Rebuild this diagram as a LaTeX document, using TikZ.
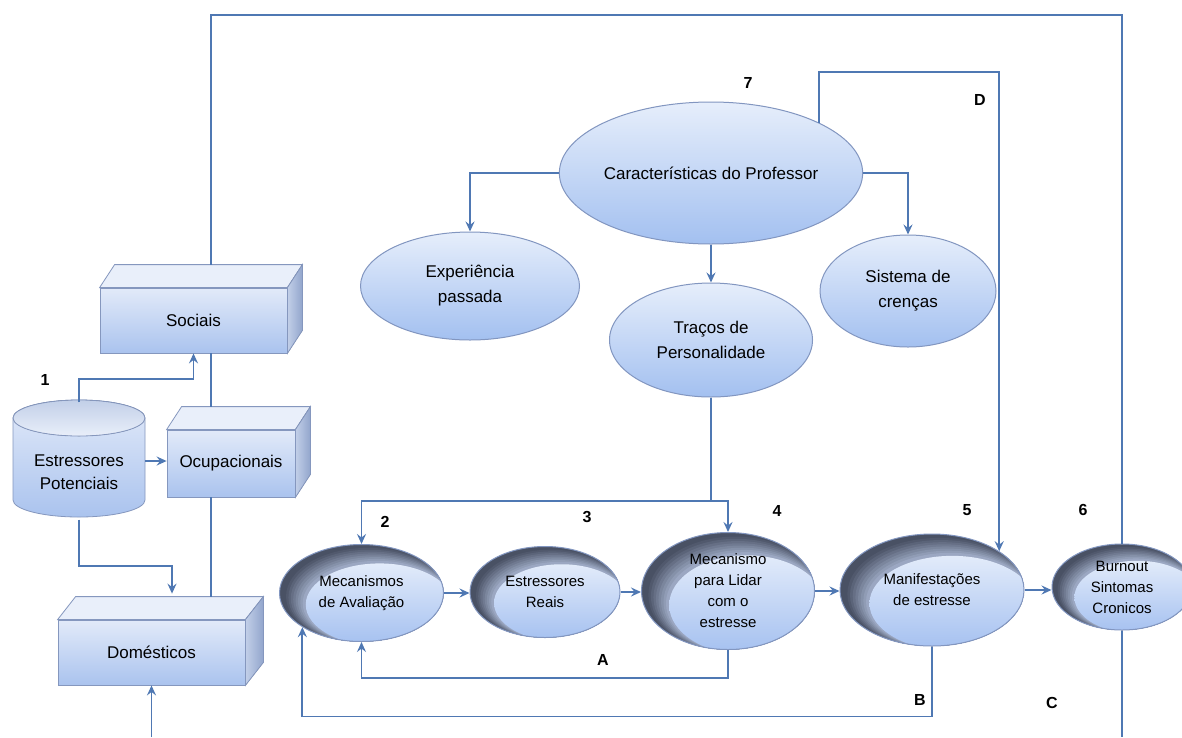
\documentclass[tikz,border=0pt]{standalone}
\usepackage{fontspec}
\setmainfont{Liberation Sans}
\usetikzlibrary{shapes.geometric,arrows.meta,calc}
\definecolor{linec}{HTML}{4F78B3}
\definecolor{ellb}{HTML}{8296C0}
\definecolor{ellT}{HTML}{E6EEFB}
\definecolor{ellB}{HTML}{A3C0F0}
\definecolor{boxb}{HTML}{8597BE}
\definecolor{boxT}{HTML}{E2EAF9}
\definecolor{boxB}{HTML}{AAC3EE}
\definecolor{topF}{HTML}{E9EFFA}
\definecolor{sideT}{HTML}{C2CFE8}
\definecolor{sideB}{HTML}{92A5CC}
\definecolor{cL}{HTML}{E2EBFA}
\definecolor{cB}{HTML}{A4C0F0}
\definecolor{cG}{HTML}{A9B6D2}
\definecolor{cDD}{HTML}{495164}
\newcommand\mycube[3]{%
  \filldraw[fill=topF, draw=boxb, line width=0.8pt] (#1.north west) -- ++(#2,-#3) -- ($(#1.north east)+(#2,-#3)$) -- (#1.north east) -- cycle;
  \filldraw[left color=sideT, right color=sideB, draw=boxb, line width=0.8pt] (#1.north east) -- ++(#2,-#3) -- ($(#1.south east)+(#2,-#3)$) -- (#1.south east) -- cycle;}
\begin{document}
\begin{tikzpicture}[x=1pt,y=-1pt,
  ln/.style={draw=linec, line width=1.8pt},
  arr/.style={ln, -{Stealth[length=10pt,width=9pt,inset=3.5pt]}},
  lightell/.style={ellipse, draw=ellb, line width=1pt, top color=ellT, bottom color=ellB, inner sep=0pt, align=center, font=\fontsize{17}{25}\selectfont},
  darkell/.style={ellipse, draw=ellb, line width=1pt, fill=cDD, inner sep=0pt, align=center, font=\fontsize{15}{21}\selectfont,
    path picture={
      \foreach \k [evaluate=\k as \pc using int(8+\k*11)] in {0,...,7}{
        \fill[cG!\pc!cDD] let \p1=(path picture bounding box.south west), \p2=(path picture bounding box.north east) in
          ({0.5*\x1+0.5*\x2+(0.04+0.0085*\k)*(\x2-\x1)},{0.5*\y1+0.5*\y2-(0.035+0.01*\k)*(\y2-\y1)}) ellipse [x radius={(0.5-0.006*\k)*(\x2-\x1)}, y radius={(0.5-0.009*\k)*(\y2-\y1)}];
      }
      \shade[top color=cL, bottom color=cB] let \p1=(path picture bounding box.south west), \p2=(path picture bounding box.north east) in
        ({0.5*\x1+0.5*\x2+0.11*(\x2-\x1)},{0.5*\y1+0.5*\y2-0.12*(\y2-\y1)}) ellipse [x radius={0.45*(\x2-\x1)}, y radius={0.425*(\y2-\y1)}];
    }},
  boxfront/.style={rectangle, draw=boxb, line width=0.8pt, top color=boxT, bottom color=boxB, inner sep=0pt, font=\fontsize{17}{20}\selectfont},
  lab/.style={font=\bfseries\fontsize{16}{16}\selectfont}]
\fill[white] (0,0) rectangle (1182,737);
\path[use as bounding box] (0,0) rectangle (1182,737);

% cylinder
\shade[top color=boxT, bottom color=boxB, draw=boxb, line width=0.8pt] (13,418) -- (13,500) arc[start angle=180, end angle=360, x radius=66pt, y radius=17pt] -- (145,418) arc[start angle=0, end angle=180, x radius=66pt, y radius=18pt] -- cycle;
\filldraw[top color=sideT, bottom color=topF, draw=boxb, line width=0.8pt] (79,418) ellipse [x radius=66pt, y radius=18pt];
\node[minimum width=132pt, minimum height=117pt, inner sep=0pt] (pot) at (79,461) {};
\node[align=center, font=\fontsize{17}{23}\selectfont] (potT) at (79,472) {Estressores\\Potenciais};

% boxes
\node[boxfront, minimum width=187pt, minimum height=65pt] (soc) at (193.5,320.5) {Sociais};
\mycube{soc}{15}{23}
\node[boxfront, minimum width=128pt, minimum height=67pt] (ocu) at (231,463.5) {Ocupacionais};
\mycube{ocu}{15}{23}
\node[boxfront, minimum width=187pt, minimum height=65pt] (dom) at (151.5,652.5) {Domésticos};
\mycube{dom}{18}{23}

% top ellipses
\node[lightell, minimum width=298pt, minimum height=142pt] (car) at (711,173) {Características do Professor};
\node[lightell, minimum width=219pt, minimum height=108pt] (exp) at (470,286) {Experiência\\passada};
\node[lightell, minimum width=203pt, minimum height=114pt] (tra) at (711,340) {Traços de\\Personalidade};
\node[lightell, minimum width=176pt, minimum height=112pt] (sis) at (908,291) {Sistema de\\crenças};

% bottom ellipses
\node[darkell, minimum width=164pt, minimum height=97pt] (mec) at (361.5,593) {Mecanismos\\de Avaliação};
\node[darkell, minimum width=150pt, minimum height=91pt] (rea) at (545,592) {Estressores\\Reais};
\node[darkell, minimum width=173pt, minimum height=117pt] (lid) at (728,591) {Mecanismo\\para Lidar\\com o\\estresse};
\node[darkell, minimum width=184pt, minimum height=112pt] (man) at (932,590) {Manifestações\\de estresse};
\node[darkell, minimum width=140pt, minimum height=86pt] (bur) at (1122,587) {Burnout\\Sintomas\\Cronicos};

% coordinates
\coordinate (fbL) at (361.5,501);
\coordinate (fbR) at (728,501);
\coordinate (cbot) at (1122,737);
\coordinate (dbot) at (151.5,737);

% left connectors
\draw[arr] (pot.north) -- ++(0,-23) -| (soc.south);
\draw[arr] (pot.east) -- (pot.east -| ocu.west);
\draw[arr] (pot.south) -- ++(0,46) -| ($(dom.north)+(20.5,-26)$);
\draw[ln] ($(soc.south)+(17.5,0)$) -- ($(ocu.north)+(-20,-23)$);
\draw[ln] ($(ocu.south)+(-20,0)$) -- ($(dom.north)+(59.5,-23)$);
\draw[arr] (dbot) -- (dom.south);

% frame C
\draw[ln] (bur.north) -- (1122,15) -- (211,15) -- ($(soc.north)+(17.5,-23)$);
\draw[ln] (bur.south) -- (cbot);

% characteristics
\draw[arr] (car.west) -| (exp.north);
\draw[arr] (car.east) -| (sis.north);
\draw[arr] (car.south) -- (tra.north);
\draw[arr] (car.25) -- ++(0,-51) -| (man.30);

% feedback top
\draw[arr] (tra.south) |- (fbL) -- (mec.north);
\draw[arr] (tra.south |- fbR) -- (fbR) -- (lid.north);

% main chain
\draw[arr] (mec.east) -- (mec.east -| rea.west);
\draw[arr] (rea.east) -- (rea.east -| lid.west);
\draw[arr] (lid.east) -- (lid.east -| man.west);
\draw[arr] (man.east) -- (man.east -| bur.west);

% loops A and B
\draw[arr] (lid.south) -- ++(0,28) -| (mec.south);
\draw[arr] (man.south) -- ++(0,70) -| (mec.210);

% labels
\node[lab] (l1) at (45,380) {1};
\node[lab] (l2) at (385,522) {2};
\node[lab] (l3) at (587,517) {3};
\node[lab] (l4) at (777,511) {4};
\node[lab] (l5) at (967,510) {5};
\node[lab] (l6) at (1083,510) {6};
\node[lab] (l7) at (748,83) {7};
\node[lab] (lA) at (603,660) {A};
\node[lab] (lB) at (920,700) {B};
\node[lab] (lC) at (1052,703) {C};
\node[lab] (lD) at (980,100) {D};
\end{tikzpicture}
\end{document}
